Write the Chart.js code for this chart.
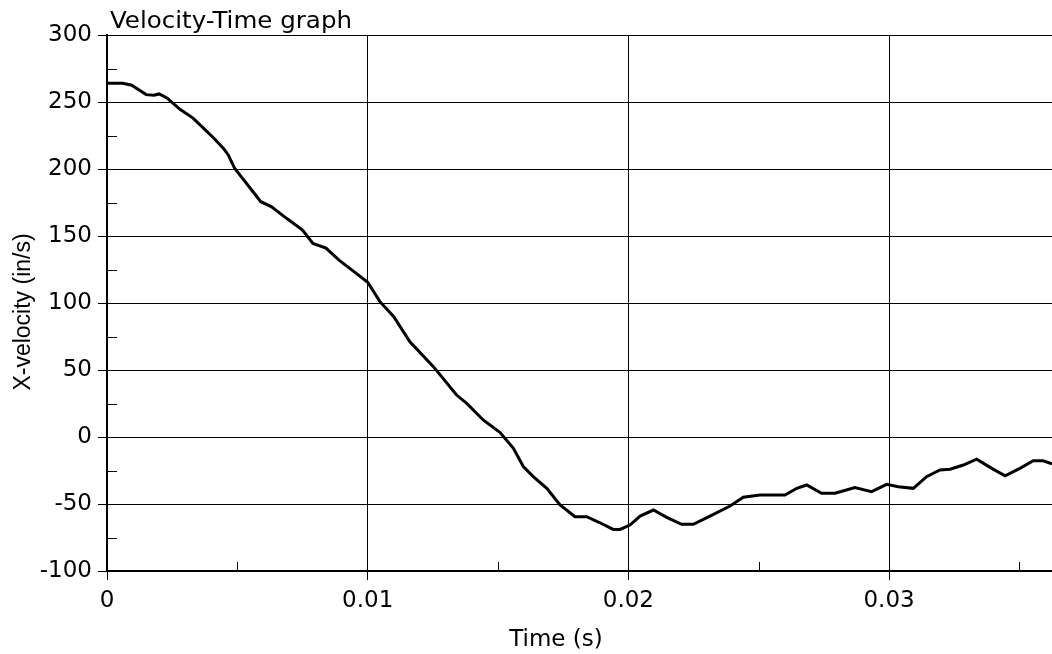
<!DOCTYPE html>
<html>
<head>
<meta charset="utf-8">
<script src="https://cdn.jsdelivr.net/npm/chart.js@4.4.0/dist/chart.umd.min.js"></script>
<style>
html,body{margin:0;padding:0;background:#fff;overflow:hidden;}
#wrap{width:1052px;height:654px;position:relative;}
canvas{display:block;}
</style>
</head>
<body>
<div id="wrap"><canvas id="c" width="1052" height="654"></canvas></div>
<script>
// ---- text ----
const chartTitle = 'Velocity-Time graph';
const xAxisTitle = 'Time (s)';
const yAxisTitle = 'X-velocity (in/s)';

// ---- data ----
const timeValues = [
  0, 0.0006, 0.00095, 0.0015, 0.0018, 0.0020, 0.0023, 0.0028, 0.0033, 0.0037,
  0.0041, 0.00446, 0.00465, 0.0049, 0.0052, 0.0056, 0.0059, 0.0063, 0.0069, 0.0075,
  0.0079, 0.0084, 0.0089, 0.0093, 0.0100, 0.01047, 0.0110, 0.01162, 0.01252, 0.01341,
  0.0138, 0.01443, 0.01507, 0.01559, 0.01597, 0.01635, 0.01687, 0.01738, 0.01795, 0.0184,
  0.01891, 0.01942, 0.01968, 0.02006, 0.02045, 0.02096, 0.02147, 0.02204, 0.02249, 0.02313,
  0.0239, 0.02441, 0.02505, 0.02601, 0.02646, 0.02684, 0.02741, 0.02793, 0.02869, 0.02933,
  0.02991, 0.03035, 0.03093, 0.03144, 0.03195, 0.03234, 0.03285, 0.03336, 0.03394, 0.03445,
  0.03502, 0.03553, 0.03591, 0.03625
];
const velocityValues = [
  264, 264, 262.5, 255.5, 255, 256, 253, 244.5, 238, 230.5,
  223, 215.5, 210.5, 200.5, 193, 183, 175.6, 172, 163, 154.5,
  144.5, 141, 132, 126, 115.5, 101, 89.8, 71.1, 52.5, 31.3,
  25.1, 12.7, 3.5, -8.5, -22, -29.6, -38.3, -50.7, -59.5, -59.5,
  -64, -69, -69, -65.7, -59, -54.5, -60, -65.2, -65.2, -59,
  -51.5, -45, -43.3, -43.3, -38.3, -35.8, -42, -42, -37.8, -40.8,
  -35.3, -37.1, -38.3, -29.6, -24.6, -24.1, -20.9, -16.6, -23.4, -28.9,
  -23.4, -17.7, -17.7, -20.1
];

// ---- ticks ----
const xMajorTicks = [0, 0.01, 0.02, 0.03];
const xTickLabels = ['0', '0.01', '0.02', '0.03'];
const xMinorTicks = [0.005, 0.015, 0.025, 0.035];
const yMajorTicks = [-100, -50, 0, 50, 100, 150, 200, 250, 300];
const yTickLabels = ['-100', '-50', '0', '50', '100', '150', '200', '250', '300'];
const yMinorTicks = [-75, -25, 25, 75, 125, 175, 225, 275];
const xMin = 0, xMax = 0.03625, yMin = -100, yMax = 300;

const points = timeValues.map((t, i) => ({x: t, y: velocityValues[i]}));

const extras = {
  id: 'extras',
  afterDraw(chart) {
    const {ctx, chartArea, scales} = chart;
    const x = scales.x, y = scales.y;
    ctx.save();
    ctx.strokeStyle = '#000';
    ctx.lineWidth = 1;
    ctx.beginPath();
    yMinorTicks.forEach(v => {
      const py = Math.round(y.getPixelForValue(v)) + 0.5;
      ctx.moveTo(chartArea.left, py);
      ctx.lineTo(chartArea.left + 10, py);
    });
    xMinorTicks.forEach(v => {
      const px = Math.round(x.getPixelForValue(v)) + 0.5;
      if (px <= chartArea.right) {
        ctx.moveTo(px, chartArea.bottom);
        ctx.lineTo(px, chartArea.bottom - 9);
      }
    });
    ctx.stroke();

    ctx.fillStyle = '#000';
    ctx.font = '23px "DejaVu Sans"';
    ctx.textAlign = 'left';
    ctx.textBaseline = 'alphabetic';
    const tw = ctx.measureText(chartTitle).width;
    ctx.save();
    ctx.translate(chartArea.left + 3, 28);
    ctx.scale(242 / tw, 1);
    ctx.fillText(chartTitle, 0, 0);
    ctx.restore();

    ctx.textAlign = 'center';
    ctx.textBaseline = 'middle';
    ctx.fillText(xAxisTitle, chartArea.left + 449, 640);

    ctx.font = '23px "Liberation Sans"';
    ctx.translate(24, chartArea.top + 277);
    ctx.rotate(-Math.PI / 2);
    ctx.fillText(yAxisTitle, 0, 0);
    ctx.restore();
  }
};

const tickFont = {family: 'DejaVu Sans', size: 23};

new Chart(document.getElementById('c'), {
  type: 'line',
  data: {
    datasets: [{
      data: points,
      borderColor: '#000',
      borderWidth: 3,
      pointRadius: 0,
      tension: 0,
      fill: false
    }]
  },
  options: {
    responsive: false,
    animation: false,
    devicePixelRatio: 1,
    layout: {padding: {top: 35, left: 0, right: 0, bottom: 0}},
    plugins: {legend: {display: false}, tooltip: {enabled: false}, title: {display: false}},
    scales: {
      x: {
        type: 'linear',
        min: xMin,
        max: xMax,
        afterBuildTicks: s => { s.ticks = xMajorTicks.map(v => ({value: v})); },
        afterFit: s => { s.height = 83; },
        ticks: {
          color: '#000',
          font: tickFont,
          padding: 7,
          maxRotation: 0,
          autoSkip: false,
          callback: (v, i) => xTickLabels[i]
        },
        grid: {color: '#000', lineWidth: 1, drawTicks: true, tickLength: 9, tickColor: '#000'},
        border: {display: true, color: '#000', width: 2}
      },
      y: {
        type: 'linear',
        min: yMin,
        max: yMax,
        afterBuildTicks: s => { s.ticks = yMajorTicks.map(v => ({value: v})); },
        afterFit: s => { s.width = 107; },
        ticks: {
          color: '#000',
          font: tickFont,
          padding: 6,
          autoSkip: false,
          callback: (v, i) => yTickLabels[i]
        },
        grid: {color: '#000', lineWidth: 1, drawTicks: true, tickLength: 9, tickColor: '#000'},
        border: {display: true, color: '#000', width: 2}
      }
    }
  },
  plugins: [extras]
});
</script>
</body>
</html>
